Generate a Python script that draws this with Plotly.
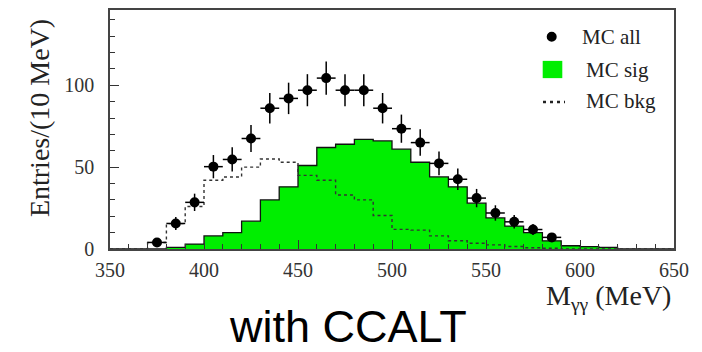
import plotly.graph_objects as go

# ---- data ----
bin_lo = [350, 360, 370, 380, 390, 400, 410, 420, 430, 440, 450, 460, 470, 480, 490,
          500, 510, 520, 530, 540, 550, 560, 570, 580, 590, 600, 610, 620, 630, 640]
bin_hi_last = 650
sig = [0, 0, 0, 1, 3, 8, 10, 17, 30, 38, 51, 62, 64, 67, 66,
       61, 53, 44, 38, 28, 19, 14, 10, 5, 2, 1.5, 1, 0, 0, 0]
bkg = [0, 0, 4, 15.5, 26, 42, 44, 50, 55, 53, 45, 42, 33, 30, 20.5,
       12, 11.5, 8, 5, 3.5, 2.5, 1.5, 0.8, 0.5, 0, 0, 0, 0, 0, 0]

all_x = [375, 385, 395, 405, 415, 425, 435, 445, 455, 465, 475, 485, 495,
         505, 515, 525, 535, 545, 555, 565, 575, 585]
all_y = [4, 15.6, 28.5, 50.3, 54.7, 67.5, 86, 92, 97, 104.4, 97, 97, 86,
         73.5, 65, 52.3, 42.6, 31.1, 22, 16.6, 11.9, 7.1]
all_err = [2, 4, 5.3, 7.1, 7.4, 8.2, 9.3, 9.6, 9.8, 10.2, 9.8, 9.8, 9.3,
           8.6, 8.1, 7.2, 6.5, 5.6, 4.7, 4.1, 3.4, 2.7]
half_bin = 5

x_ticks = [350, 400, 450, 500, 550, 600, 650]
y_ticks = [0, 50, 100]

step_x = bin_lo + [bin_hi_last]
sig_step = sig + [sig[-1]]
bkg_step = bkg + [bkg[-1]]

SERIF = "Liberation Serif"
GREEN = "#00ee00"

fig = go.Figure()
fig.add_trace(go.Scatter(x=step_x, y=sig_step, mode="lines", line_shape="hv",
                         fill="tozeroy", fillcolor=GREEN,
                         line=dict(color="#111", width=1.3), showlegend=False,
                         hoverinfo="skip"))
fig.add_trace(go.Scatter(x=step_x, y=bkg_step, mode="lines", line_shape="hv",
                         line=dict(color="#333", width=1.4, dash="3px,3px"),
                         showlegend=False, hoverinfo="skip"))
fig.add_trace(go.Scatter(x=all_x, y=all_y, mode="markers",
                         marker=dict(color="black", size=10),
                         error_y=dict(type="data", array=all_err, color="black",
                                      thickness=1.5, width=0),
                         error_x=dict(type="constant", value=half_bin, color="black",
                                      thickness=1.5, width=0),
                         showlegend=False))

L, R, T, B = 110, 674, 8, 249
W, H = 702, 352


def px(xp):
    return (xp - L) / (R - L)


def py(yp):
    return (B - yp) / (B - T)


shapes = [
    dict(type="circle", xref="paper", yref="paper", x0=px(546.7), x1=px(556.7),
         y0=py(40), y1=py(30), fillcolor="black", line=dict(width=0)),
    dict(type="rect", xref="paper", yref="paper", x0=px(542.7), x1=px(562.3),
         y0=py(76.7), y1=py(59.3), fillcolor=GREEN, line=dict(width=0)),
    dict(type="line", xref="paper", yref="paper", x0=px(543), x1=px(565),
         y0=py(100.7), y1=py(100.7), line=dict(color="#222", width=2.5, dash="3px,4px")),
]

annotations = [
    dict(text="MC all", xref="paper", yref="paper", x=px(580), y=py(35),
         xanchor="left", yanchor="middle", showarrow=False,
         font=dict(family=SERIF, size=21, color="#222")),
    dict(text="MC sig", xref="paper", yref="paper", x=px(584), y=py(68),
         xanchor="left", yanchor="middle", showarrow=False,
         font=dict(family=SERIF, size=21, color="#222")),
    dict(text="MC bkg", xref="paper", yref="paper", x=px(584), y=py(100),
         xanchor="left", yanchor="middle", showarrow=False,
         font=dict(family=SERIF, size=21, color="#222")),
    dict(text="Entries/(10 MeV)", xref="paper", yref="paper", x=px(39), y=py(117),
         xanchor="center", yanchor="middle", textangle=-90, showarrow=False,
         font=dict(family=SERIF, size=28, color="#222")),
    dict(text="M<sub>γγ</sub> (MeV)", xref="paper", yref="paper", x=px(673), y=py(278),
         xanchor="right", yanchor="top", showarrow=False,
         font=dict(family=SERIF, size=28, color="#222")),
    dict(text="with CCALT", xref="paper", yref="paper", x=px(348), y=py(327),
         xanchor="center", yanchor="middle", showarrow=False,
         font=dict(family="Liberation Sans", size=45, color="black")),
]

fig.update_layout(
    width=W, height=H,
    margin=dict(l=L, r=W - R, t=T, b=H - B),
    paper_bgcolor="white", plot_bgcolor="white",
    showlegend=False,
    shapes=shapes, annotations=annotations,
    xaxis=dict(range=[350, 650], tickvals=x_ticks, ticks="inside", ticklen=9,
               tickcolor="#333", tickwidth=1.2,
               minor=dict(ticks="inside", ticklen=5, dtick=10, tick0=350,
                          tickcolor="#333", tickwidth=1.2),
               showline=True, linecolor="#444", linewidth=1.5, mirror=True,
               showgrid=False, zeroline=False, ticklabelstandoff=2,
               tickfont=dict(family=SERIF, size=20, color="#333")),
    yaxis=dict(range=[0, 146], tickvals=y_ticks, ticks="inside", ticklen=9,
               tickcolor="#333", tickwidth=1.2,
               minor=dict(ticks="inside", ticklen=5, dtick=10, tick0=0,
                          tickcolor="#333", tickwidth=1.2),
               showline=True, linecolor="#444", linewidth=1.5, mirror=True,
               showgrid=False, zeroline=False, ticklabelstandoff=10,
               tickfont=dict(family=SERIF, size=20, color="#333")),
)

fig.write_html("out.html")
